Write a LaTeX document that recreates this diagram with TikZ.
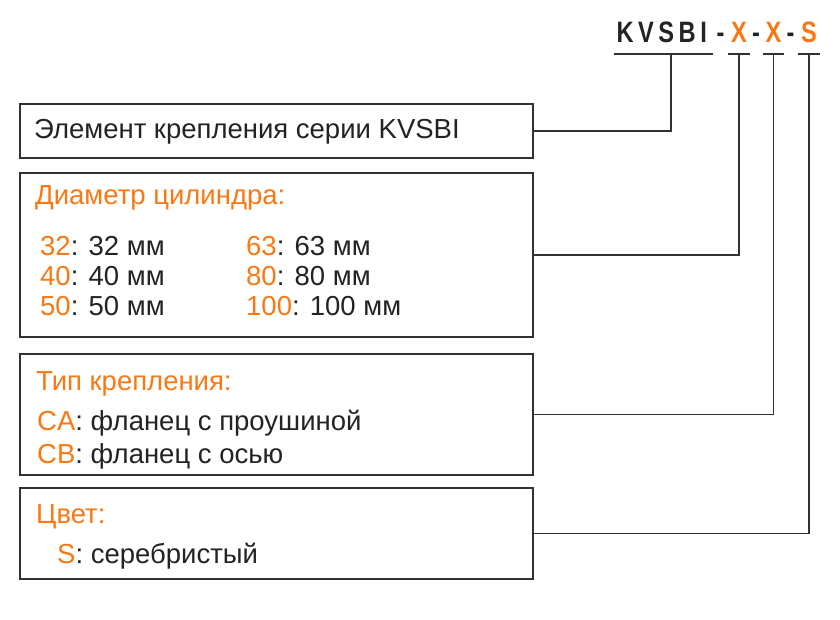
\documentclass[tikz,border=0pt]{standalone}
\usepackage{fontspec}
\setmainfont{Liberation Sans}
\newfontfamily\codefont[FakeStretch=0.8]{Liberation Sans}
\usetikzlibrary{positioning,calc}

\begin{document}
\begin{tikzpicture} [x=1pt, y=-1pt,
box/.style     = { rectangle, draw=boxgray, line width=1.6pt,
    minimum width=513pt, inner sep=0pt },
head/.style    = { anchor=base west, inner sep=0pt, text=keyorange,
    font=\fontsize{27.5}{27.5}\selectfont },
item/.style    = { anchor=base west, inner sep=0pt, text=textgray,
    font=\fontsize{27.5}{27.5}\selectfont },
code/.style    = { anchor=base, inner xsep=2.5pt, inner ysep=11pt, text depth=0pt,
    font=\codefont\bfseries\fontsize{29.5}{29.5}\selectfont },
line/.style    = { draw=boxgray, line width=1.6pt },
]
\definecolor{keyorange}{RGB}{250,120,20}
\definecolor{textgray}{RGB}{35,35,35}
\definecolor{boxgray}{RGB}{50,50,50}
\useasboundingbox (0,0) rectangle (840,620);

% order code
\node [code, anchor=base west, text=textgray] (kvsbi) at (614,43) {K\kern4.5pt V\kern4.5pt S\kern4.5pt B\kern4.5pt I\kern3pt};
\node [code, text=textgray] (dash1) at (720.5,43) {-};
\node [code, text=keyorange] (xdia) at (739,43) {X};
\node [code, text=textgray] (dash2) at (756,43) {-};
\node [code, text=keyorange] (xmount) at (773.5,43) {X};
\node [code, text=textgray] (dash3) at (790.5,43) {-};
\node [code, text=keyorange] (scol) at (809,43) {S};

% boxes
\node [box, minimum height=54pt] (elem) at (276.5,131) {};
\node [box, minimum height=164pt] (dia) at (276.5,255) {};
\node [box, minimum height=121pt] (mount) at (276.5,414.5) {};
\node [box, minimum height=91pt] (colour) at (276.5,533.5) {};

% texts
\node [item] (elemtext) at (34,139) {Элемент крепления серии KVSBI};
\node [head] (diahead) at (35,205) {Диаметр цилиндра:};
\node [item] (d32) at (40,255) {\textcolor{keyorange}{32}: 32 мм};
\node [item] (d40) at (40,285) {\textcolor{keyorange}{40}: 40 мм};
\node [item] (d50) at (40,315) {\textcolor{keyorange}{50}: 50 мм};
\node [item] (d63) at (246,255) {\textcolor{keyorange}{63}: 63 мм};
\node [item] (d80) at (246,285) {\textcolor{keyorange}{80}: 80 мм};
\node [item] (d100) at (246,315) {\textcolor{keyorange}{100}: 100 мм};
\node [head] (mounthead) at (36,390) {Тип крепления:};
\node [item] (ca) at (37,430) {\textcolor{keyorange}{CA}: фланец с проушиной};
\node [item] (cb) at (37,463) {\textcolor{keyorange}{CB}: фланец с осью};
\node [head] (colhead) at (36,523) {Цвет:};
\node [item] (silver) at (57,563) {\textcolor{keyorange}{S}: серебристый};

% connect code to boxes
\begin{scope} [every path/.style=line]
\path (kvsbi.south west) -- (kvsbi.south east);
\path (xdia.south west) -- (xdia.south east);
\path (xmount.south west) -- (xmount.south east);
\path (scol.south west) -- (scol.south east);
\path ([xshift=8pt]kvsbi.south) |- (elem.east);
\path (xdia.south) |- (dia.east);
\path (xmount.south) |- (mount.east);
\path (scol.south) |- (colour.east);
\end{scope}

\end{tikzpicture}
\end{document}
